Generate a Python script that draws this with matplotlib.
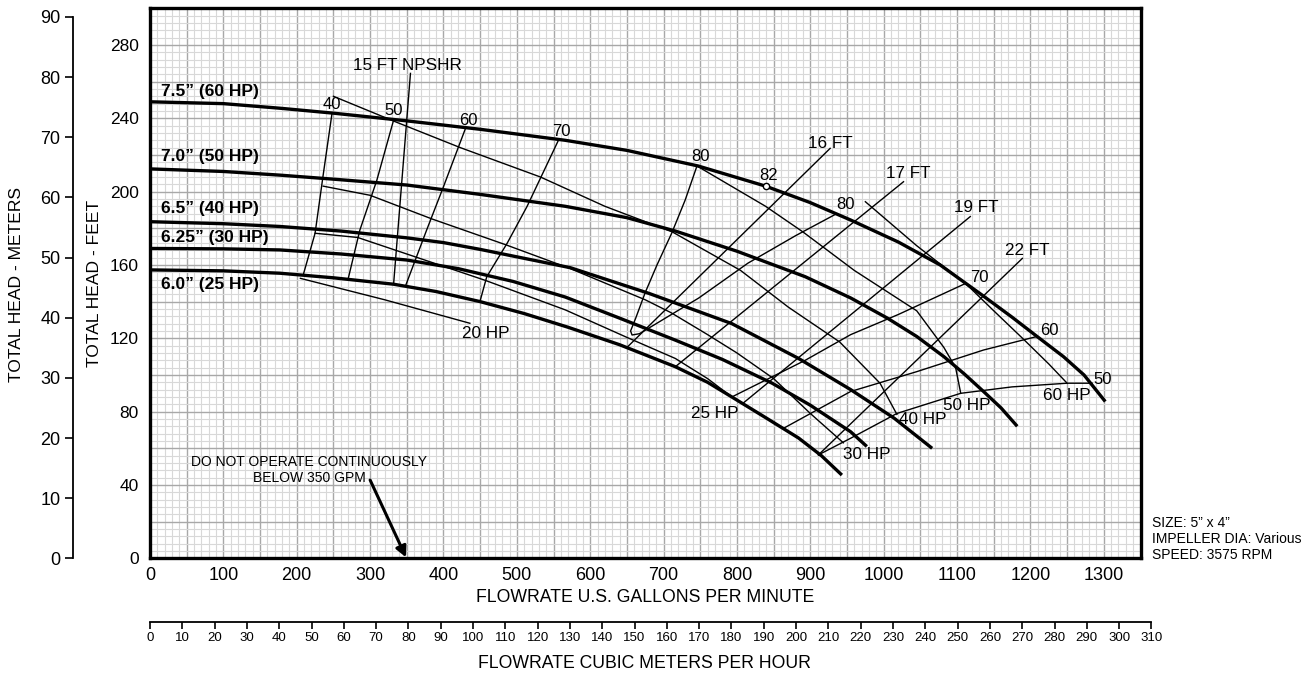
import matplotlib
matplotlib.use('Agg')
import matplotlib.pyplot as plt
import numpy as np

plt.rcParams['font.family'] = ['Liberation Sans', 'DejaVu Sans']

# ---------------- data (GPM, feet) ----------------
imp_labels = ['7.5\u201d (60 HP)', '7.0\u201d (50 HP)', '6.5\u201d (40 HP)', '6.25\u201d (30 HP)', '6.0\u201d (25 HP)']
imp_label_ft = [254.4, 219, 191, 175, 149.6]

imp75_q = [0, 100, 177, 250, 350, 450, 566, 650, 747, 839, 900, 955, 1020, 1077, 1134, 1175, 1209, 1245, 1273, 1302]
imp75_h = [249, 248, 245.5, 242.8, 238.6, 234, 228, 222.5, 214, 203, 194, 184.5, 172.5, 160, 143.6, 131.5, 121, 110, 100, 85.5]
imp70_q = [0, 100, 177, 250, 350, 450, 566, 650, 716, 800, 893, 955, 1005, 1045, 1082, 1110, 1136, 1160, 1182]
imp70_h = [212.4, 211, 209, 206.8, 203.6, 198.5, 192, 185.8, 178.5, 167.5, 153.6, 142, 131, 121, 110, 100.5, 91, 82, 72]
imp65_q = [0, 100, 177, 260, 350, 400, 450, 573, 680, 793, 884, 955, 1014, 1066]
imp65_h = [183.6, 182.5, 181, 178.5, 174.8, 172.2, 168.5, 158.5, 144.5, 128, 109, 92, 76.5, 60]
imp625_q = [0, 100, 177, 260, 350, 420, 495, 566, 640, 716, 780, 848, 900, 955, 977]
imp625_h = [169, 168.8, 168.2, 166, 162.7, 158, 151, 142.5, 131, 119, 108.5, 95.5, 83.5, 69, 61]
imp60_q = [0, 100, 177, 250, 332, 390, 450, 510, 570, 640, 716, 760, 793, 840, 884, 915, 943]
imp60_h = [157.3, 156.8, 155.5, 153, 149.5, 145.5, 140, 133.5, 126, 116.5, 104.5, 96, 88, 76.5, 65.6, 56, 45.4]

# efficiency contours (%)
eff40_q = [248, 236, 225, 209]
eff40_h = [242.5, 209, 177.3, 154.8]
eff50_q = [332, 309, 286, 270]
eff50_h = [239, 206, 179, 152.3]
eff60_q = [430, 400, 377, 348]
eff60_h = [234.5, 202.7, 179, 148.3]
eff70_q = [557, 514, 487, 459, 450]
eff70_h = [228.3, 192, 172, 153.6, 140.5]
eff80_q = [745.5, 729.5, 711, 691, 675, 662, 655, 657, 667, 690, 748, 815, 880, 936]
eff80_h = [214, 195.5, 177.3, 160, 145, 131, 124, 121.8, 122.5, 128, 142, 161, 176, 188]
eff70r_q = [793, 848, 893, 955, 1020, 1112]
eff70r_h = [88, 99, 108, 122, 133, 150]
eff60r_q = [863, 955, 1045, 1136, 1209]
eff60r_h = [70.8, 91, 101.8, 113.6, 121]
eff50r_q = [911, 955, 1018, 1105, 1175, 1250, 1284]
eff50r_h = [56.4, 65.5, 79, 90, 93.5, 95.5, 95.5]

# NPSHR lines (ft)
npsh15_q = [355, 332]
npsh15_h = [264.5, 149.5]
npsh16_q = [650, 927]
npsh16_h = [115, 223.6]
npsh17_q = [716, 1027]
npsh17_h = [104.5, 205.4]
npsh19_q = [808, 1118]
npsh19_h = [84.5, 186.4]
npsh22_q = [911, 1189]
npsh22_h = [56.4, 163.6]

# power lines (HP)
hp20_q = [205, 320, 436]
hp20_h = [152.7, 141, 128.2]
hp25_q = [225, 283, 361, 457, 566, 650, 716, 760, 793]
hp25_h = [177.3, 175, 164.5, 151.6, 135.5, 120.5, 109, 98, 88]
hp30_q = [236, 300, 385, 485, 573, 675, 710, 760, 800, 850, 900, 945]
hp30_h = [203, 198, 185, 171, 158, 141, 134, 122, 112, 98, 79, 63]
hp40_q = [250, 332, 423, 532, 620, 712, 805, 870, 940, 995, 1018]
hp40_h = [252, 238.5, 224, 208, 192, 178, 157, 137, 118, 95.5, 78.5]
hp50_q = [745.5, 839, 890, 960, 1045, 1082, 1098, 1105]
hp50_h = [214, 192, 178, 157, 135, 115, 104, 90]
hp60_q = [975, 1045, 1114, 1150, 1190, 1225, 1250]
hp60_h = [194.5, 170.5, 149, 135, 119.7, 106, 95.5]

peak_q, peak_h = [840], [203]

eff_text = ['40', '50', '60', '70', '80', '82', '80', '70', '60', '50']
eff_text_q = [248, 332, 434, 561, 750, 843, 948, 1130, 1226, 1299]
eff_text_h = [247.4, 244.2, 239, 232.7, 219, 209, 193, 153, 124.5, 97.3]
npsh_text = ['15 FT NPSHR', '16 FT', '17 FT', '19 FT', '22 FT']
npsh_text_q = [351, 927, 1033, 1126, 1195]
npsh_text_h = [269, 226.5, 210, 191.5, 168]
hp_text = ['20 HP', '25 HP', '30 HP', '40 HP', '50 HP', '60 HP']
hp_text_q = [457, 770, 977, 1053, 1113, 1249]
hp_text_h = [122.7, 79, 56.4, 75.5, 83.3, 88.7]

gpm_ticks = list(range(0, 1301, 100))
ft_ticks = list(range(0, 281, 40))
m_ticks = list(range(0, 91, 10))
m3h_ticks = list(range(0, 311, 10))

# ---------------- figure ----------------
W, H = 1315, 675
fig = plt.figure(figsize=(W / 100, H / 100), dpi=100)


def rect(x0, y0, x1, y1):
    return [x0 / W, 1 - y1 / H, (x1 - x0) / W, (y1 - y0) / H]


ax = fig.add_axes(rect(150, 8.3, 1140.5, 558.3))
ax.set_xlim(0, 1350)
ax.set_ylim(0, 300)
ax.set_xticks(np.arange(0, 1351, 50))
ax.set_xticklabels([str(v) if v in gpm_ticks else '' for v in np.arange(0, 1351, 50)])
ax.set_xticks(np.arange(0, 1351, 10), minor=True)
ax.set_yticks(np.arange(0, 301, 20))
ax.set_yticklabels([str(v) if v in ft_ticks else '' for v in np.arange(0, 301, 20)])
ax.set_yticks(np.arange(0, 301, 4), minor=True)
ax.grid(which='minor', color='#d8d8d8', lw=0.8)
ax.grid(which='major', color='#a8a8a8', lw=1.0)
ax.set_axisbelow(True)
ax.tick_params(which='both', length=0)
ax.tick_params(axis='x', labelsize=13, pad=6)
ax.tick_params(axis='y', labelsize=12.5, pad=8)
for s in ax.spines.values():
    s.set_linewidth(2.4)
    s.set_color('black')

thick = dict(color='black', lw=2.4, solid_capstyle='butt', solid_joinstyle='round', zorder=4)
thin = dict(color='black', lw=1.0, solid_joinstyle='round', zorder=3)
for q, h in [(imp75_q, imp75_h), (imp70_q, imp70_h), (imp65_q, imp65_h),
             (imp625_q, imp625_h), (imp60_q, imp60_h)]:
    ax.plot(q, h, **thick)
for q, h in [(eff40_q, eff40_h), (eff50_q, eff50_h), (eff60_q, eff60_h), (eff70_q, eff70_h),
             (eff80_q, eff80_h), (eff70r_q, eff70r_h), (eff60r_q, eff60r_h), (eff50r_q, eff50r_h),
             (npsh15_q, npsh15_h), (npsh16_q, npsh16_h), (npsh17_q, npsh17_h),
             (npsh19_q, npsh19_h), (npsh22_q, npsh22_h),
             (hp20_q, hp20_h), (hp25_q, hp25_h), (hp30_q, hp30_h), (hp40_q, hp40_h),
             (hp50_q, hp50_h), (hp60_q, hp60_h)]:
    ax.plot(q, h, **thin)
ax.plot(peak_q, peak_h, 'o', ms=4.5, mfc='white', mec='black', mew=1.0, zorder=5)

for t, yy in zip(imp_labels, imp_label_ft):
    ax.text(15.5, yy, t, fontsize=12.5, fontweight='bold', ha='left', va='center', zorder=6)
for t, q, h in zip(eff_text, eff_text_q, eff_text_h):
    ax.text(q, h, t, fontsize=12, ha='center', va='center', zorder=6)
for t, q, h in zip(npsh_text, npsh_text_q, npsh_text_h):
    ax.text(q, h, t, fontsize=12.3, ha='center', va='center', zorder=6)
for t, q, h in zip(hp_text, hp_text_q, hp_text_h):
    ax.text(q, h, t, fontsize=12.3, ha='center', va='center', zorder=6)

ax.text(217, 48.2, 'DO NOT OPERATE CONTINUOUSLY\nBELOW 350 GPM', fontsize=10, ha='center',
        va='center', linespacing=1.15, zorder=6)
ax.annotate('', xy=(349, 0.5), xytext=(300, 42.7),
            arrowprops=dict(arrowstyle='-|>', lw=2.2, color='black', mutation_scale=16,
                            shrinkA=0, shrinkB=0), zorder=6)

# meters axis
axm = fig.add_axes(rect(73, 8.3, 73.6, 558.3))
axm.set_ylim(0, 300 * 0.3048)
axm.set_xticks([])
axm.set_yticks(m_ticks)
for k in ['top', 'right', 'bottom']:
    axm.spines[k].set_visible(False)
axm.spines['left'].set_bounds(0, 90)
axm.spines['left'].set_linewidth(1.3)
axm.patch.set_visible(False)
axm.tick_params(axis='y', length=6, width=1.2, labelsize=13, pad=3)

# cubic meters per hour axis
axc = fig.add_axes(rect(150, 600, 150 + 310 * 4.40287 * (990.5 / 1350), 622))
axc.set_xlim(0, 310)
axc.set_yticks([])
axc.set_xticks(m3h_ticks)
for k in ['top', 'right', 'left']:
    axc.spines[k].set_visible(False)
axc.spines['bottom'].set_linewidth(1.3)
axc.patch.set_visible(False)
axc.tick_params(axis='x', length=5, width=1.2, labelsize=9.5, pad=2)

fig.text(645 / W, 1 - 597.7 / H, 'FLOWRATE U.S. GALLONS PER MINUTE', fontsize=12.7, ha='center', va='center')
fig.text(644 / W, 1 - 664 / H, 'FLOWRATE CUBIC METERS PER HOUR', fontsize=12.7, ha='center', va='center')
fig.text(17 / W, 1 - 284 / H, 'TOTAL HEAD - METERS', fontsize=12.6, rotation=90, ha='center', va='center')
fig.text(95 / W, 1 - 283 / H, 'TOTAL HEAD - FEET', fontsize=12.6, rotation=90, ha='center', va='center')
fig.text(1152 / W, 1 - 539 / H, 'SIZE: 5\u201d x 4\u201d\nIMPELLER DIA: Various\nSPEED: 3575 RPM',
         fontsize=10, ha='left', va='center', linespacing=1.2)

fig.savefig('out.png', dpi=100)
